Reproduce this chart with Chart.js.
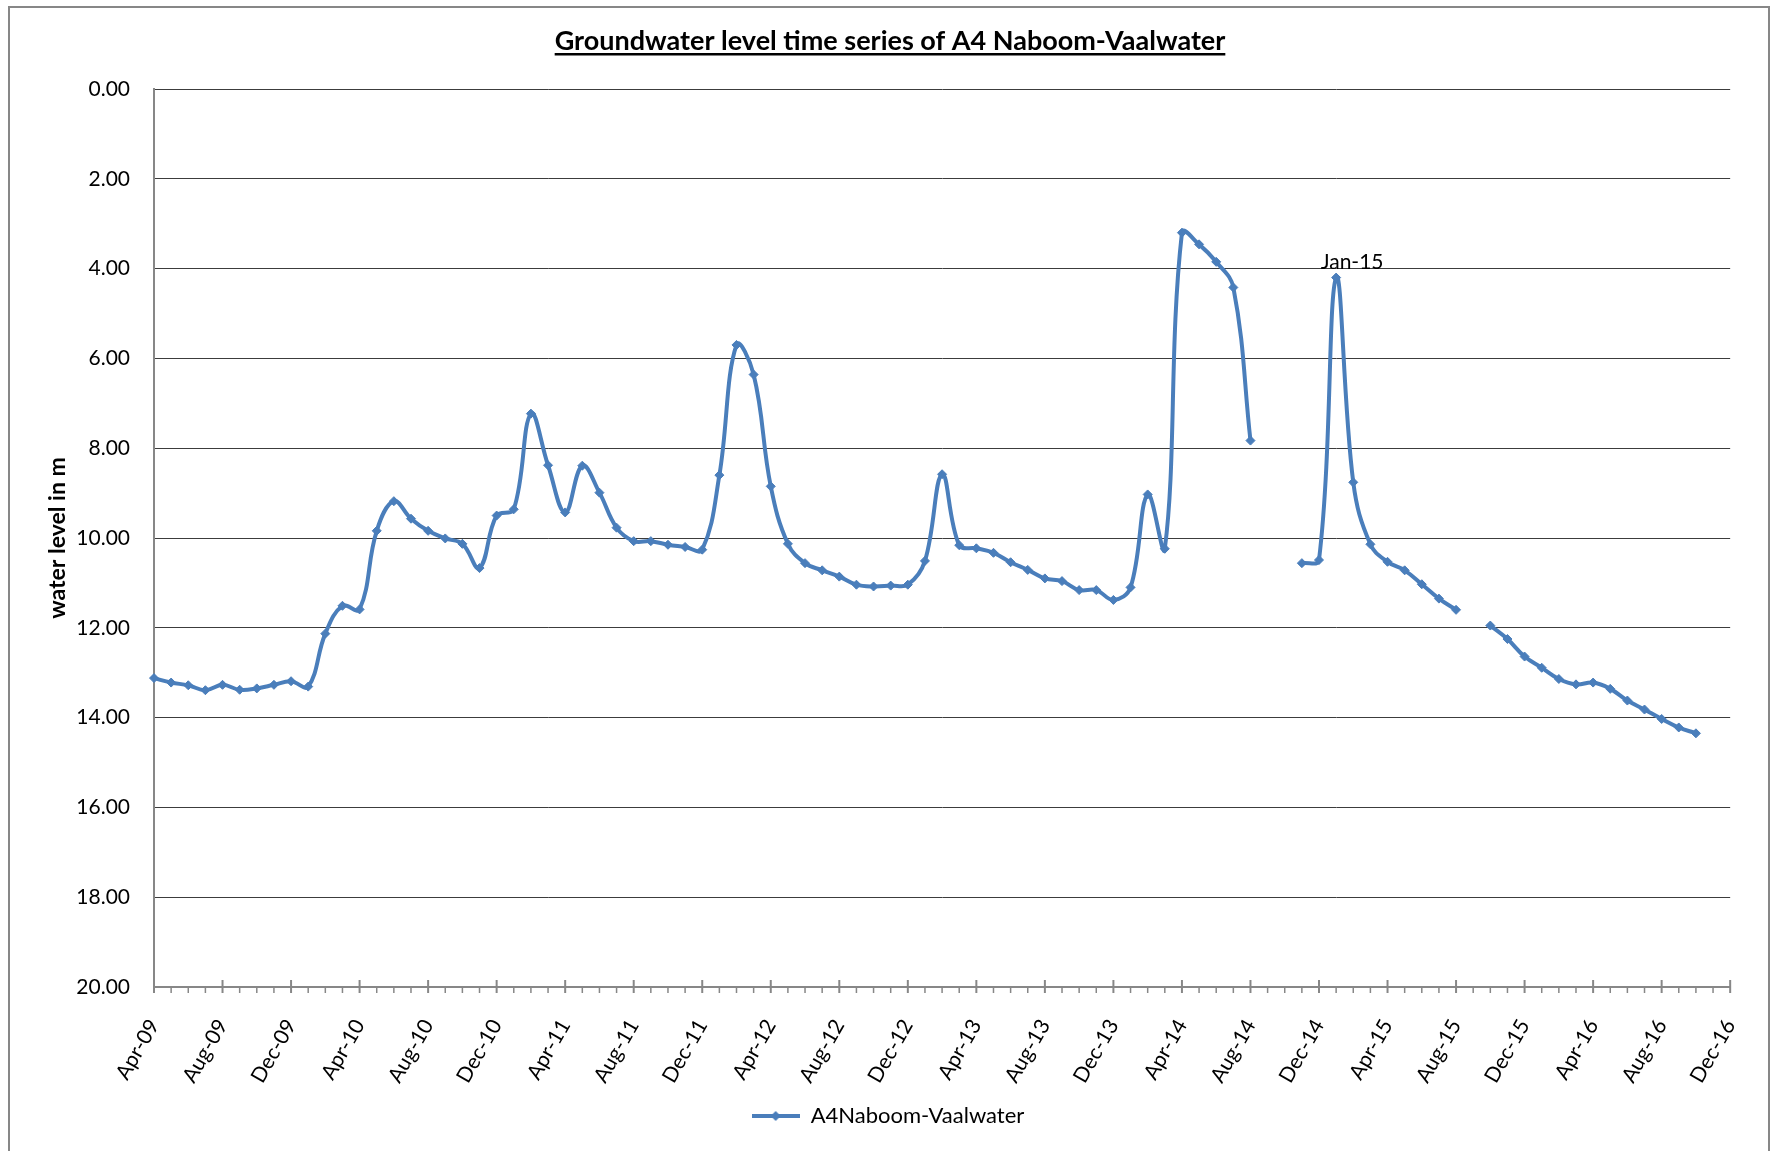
<!DOCTYPE html>
<html>
<head>
<meta charset="utf-8">
<script src="https://cdn.jsdelivr.net/npm/chart.js@4.4.1/dist/chart.umd.min.js"></script>
<style>
  html, body { margin: 0; padding: 0; background: #fff; }
  canvas { display: block; }
</style>
</head>
<body>
<canvas id="levelChart" width="1772" height="1151"></canvas>
<script>
// monthly readings, Apr-09 .. Dec-16
const months = [
  'Apr-09','May-09','Jun-09','Jul-09','Aug-09','Sep-09','Oct-09','Nov-09','Dec-09',
  'Jan-10','Feb-10','Mar-10','Apr-10','May-10','Jun-10','Jul-10','Aug-10','Sep-10','Oct-10','Nov-10','Dec-10',
  'Jan-11','Feb-11','Mar-11','Apr-11','May-11','Jun-11','Jul-11','Aug-11','Sep-11','Oct-11','Nov-11','Dec-11',
  'Jan-12','Feb-12','Mar-12','Apr-12','May-12','Jun-12','Jul-12','Aug-12','Sep-12','Oct-12','Nov-12','Dec-12',
  'Jan-13','Feb-13','Mar-13','Apr-13','May-13','Jun-13','Jul-13','Aug-13','Sep-13','Oct-13','Nov-13','Dec-13',
  'Jan-14','Feb-14','Mar-14','Apr-14','May-14','Jun-14','Jul-14','Aug-14','Sep-14','Oct-14','Nov-14','Dec-14',
  'Jan-15','Feb-15','Mar-15','Apr-15','May-15','Jun-15','Jul-15','Aug-15','Sep-15','Oct-15','Nov-15','Dec-15',
  'Jan-16','Feb-16','Mar-16','Apr-16','May-16','Jun-16','Jul-16','Aug-16','Sep-16','Oct-16','Nov-16','Dec-16'
];

const waterLevel = [
  13.12, 13.22, 13.28, 13.39, 13.27, 13.38, 13.35, 13.27, 13.19,
  13.31, 12.13, 11.51, 11.59, 9.84, 9.18, 9.57, 9.84, 10.01, 10.13, 10.67, 9.50,
  9.36, 7.23, 8.38, 9.43, 8.39, 8.99, 9.77, 10.07, 10.07, 10.15, 10.20, 10.26,
  8.60, 5.70, 6.36, 8.85, 10.13, 10.56, 10.72, 10.86, 11.04, 11.08, 11.06, 11.04,
  10.51, 8.58, 10.16, 10.23, 10.33, 10.54, 10.71, 10.90, 10.96, 11.16, 11.16, 11.38,
  11.10, 9.03, 10.24, 3.20, 3.46, 3.85, 4.42, 7.83, null, null, 10.56, 10.49,
  4.20, 8.76, 10.14, 10.53, 10.72, 11.03, 11.35, 11.60, null, 11.95, 12.25, 12.64,
  12.89, 13.14, 13.26, 13.22, 13.36, 13.62, 13.82, 14.03, 14.22, 14.35, null, null
];

const seriesName = 'A4Naboom-Vaalwater';
const chartTitle = 'Groundwater level time series of A4 Naboom-Vaalwater';
const yTitle = 'water level in m';
const labelledMonth = 'Jan-15';
const yMin = 0, yMax = 20, yStep = 2;
const tickEvery = 4;

const blue = '#4a7ebb';
const axisGrey = '#878787';
const fontFamily = 'Lato, "Open Sans", sans-serif';

// little line-with-diamond icon for the legend
const legendIcon = document.createElement('canvas');
legendIcon.width = 48;
legendIcon.height = 12;
(function () {
  const c = legendIcon.getContext('2d');
  c.strokeStyle = blue;
  c.lineWidth = 4;
  c.beginPath(); c.moveTo(0, 6); c.lineTo(48, 6); c.stroke();
  c.fillStyle = blue;
  c.beginPath(); c.moveTo(24, 1); c.lineTo(29, 6); c.lineTo(24, 11); c.lineTo(19, 6); c.closePath(); c.fill();
})();

// white page, grey frame and underlined title
const frameAndTitle = {
  id: 'frameAndTitle',
  beforeDraw(chart) {
    const c = chart.ctx;
    c.save();
    c.fillStyle = '#fff';
    c.fillRect(0, 0, chart.width, chart.height);
    c.strokeStyle = axisGrey;
    c.lineWidth = 2;
    c.strokeRect(9, 7, 1760, 1170);
    c.restore();
  },
  afterDraw(chart) {
    const c = chart.ctx;
    c.save();
    c.font = 'bold 27px ' + fontFamily;
    c.fillStyle = '#000';
    c.textAlign = 'center';
    c.textBaseline = 'alphabetic';
    const cx = 890, base = 50;
    c.fillText(chartTitle, cx, base);
    const w = c.measureText(chartTitle).width;
    c.fillRect(cx - w / 2, base + 3, w, 2.5);
    c.restore();
  }
};

// major/minor tick marks along the date axis
const monthTicks = {
  id: 'monthTicks',
  afterDraw(chart) {
    const xs = chart.scales.x;
    const c = chart.ctx;
    const y = xs.top;
    c.save();
    c.strokeStyle = axisGrey;
    for (let i = 0; i < months.length; i++) {
      const x = xs.getPixelForTick(i);
      c.lineWidth = i % tickEvery === 0 ? 2 : 1.5;
      c.beginPath();
      if (i % tickEvery === 0) { c.moveTo(x, y - 7); c.lineTo(x, y + 6); }
      else { c.moveTo(x, y); c.lineTo(x, y + 6); }
      c.stroke();
    }
    c.restore();
  }
};

// the single data label
const pointLabel = {
  id: 'pointLabel',
  afterDatasetsDraw(chart) {
    const idx = months.indexOf(labelledMonth);
    const pt = chart.getDatasetMeta(0).data[idx];
    if (!pt) return;
    const c = chart.ctx;
    c.save();
    c.font = '21px ' + fontFamily;
    c.fillStyle = '#000';
    c.textAlign = 'center';
    c.textBaseline = 'alphabetic';
    c.fillText(labelledMonth, pt.x + 16, pt.y - 9);
    c.restore();
  }
};

const ctx = document.getElementById('levelChart').getContext('2d');

const levelChart = new Chart(ctx, {
  type: 'line',
  data: {
    labels: months,
    datasets: [{
      label: seriesName,
      data: waterLevel,
      borderColor: blue,
      backgroundColor: blue,
      borderWidth: 4,
      tension: 0.4,
      spanGaps: false,
      pointStyle: 'rectRot',
      pointRadius: 4.5,
      pointBorderWidth: 1,
      pointBackgroundColor: blue,
      pointBorderColor: blue
    }]
  },
  options: {
    responsive: false,
    animation: false,
    devicePixelRatio: 1,
    layout: {
      padding: { top: 89, left: 40, right: 36, bottom: 14 }
    },
    scales: {
      x: {
        type: 'category',
        offset: false,
        grid: { display: false },
        border: { display: true, color: axisGrey, width: 2 },
        ticks: {
          autoSkip: false,
          minRotation: 60,
          maxRotation: 60,
          padding: 20,
          color: '#000',
          font: { family: fontFamily, size: 21 },
          callback: function (value, index) {
            return index % tickEvery === 0 ? months[index] : '';
          }
        },
        afterFit(scale) { scale.height = 108; }
      },
      y: {
        reverse: true,
        min: yMin,
        max: yMax,
        grid: {
          drawTicks: false,
          color: c => c.tick && c.tick.value === yMax ? 'rgba(0,0,0,0)' : '#3c3c3c',
          lineWidth: 1
        },
        border: { display: true, color: axisGrey, width: 2 },
        ticks: {
          stepSize: yStep,
          padding: 24,
          color: '#000',
          font: { family: fontFamily, size: 21 },
          callback: v => Number(v).toFixed(2)
        },
        title: {
          display: true,
          text: yTitle,
          color: '#000',
          font: { family: fontFamily, size: 23, weight: 'bold' }
        },
        afterFit(scale) { scale.width = 114; }
      }
    },
    plugins: {
      title: { display: false },
      tooltip: { enabled: false },
      legend: {
        display: true,
        position: 'bottom',
        labels: {
          usePointStyle: true,
          pointStyle: legendIcon,
          pointStyleWidth: 48,
          boxHeight: 12,
          padding: 10,
          color: '#000',
          font: { family: fontFamily, size: 22 }
        }
      }
    }
  },
  plugins: [frameAndTitle, monthTicks, pointLabel]
});
</script>
</body>
</html>
